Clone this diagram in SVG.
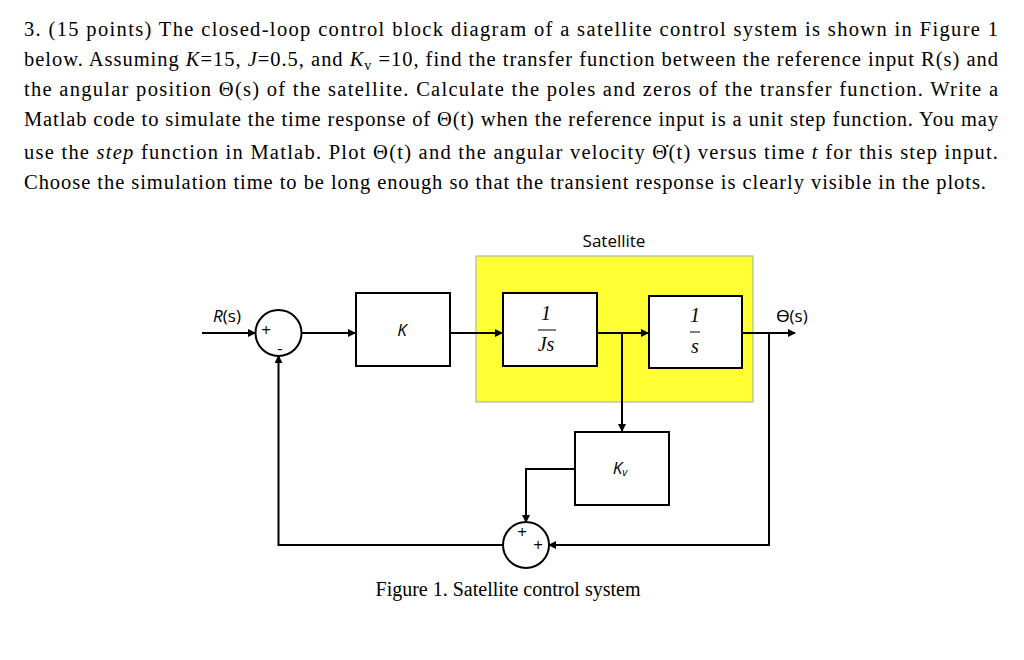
<svg xmlns="http://www.w3.org/2000/svg" width="1024" height="660" viewBox="0 0 1024 660">
<style>
.q{font-family:"Liberation Serif",serif;font-size:20.5px;fill:#000}
.s{font-family:"Open Sans","Liberation Sans",sans-serif;font-size:17px;fill:#000}
.m{font-family:"Liberation Serif",serif;font-size:20px;font-style:italic;fill:#000}
.b{fill:#fff;stroke:#000;stroke-width:2}
.w{fill:none;stroke:#000;stroke-width:2}
</style>
<defs><marker id="a" markerWidth="8" markerHeight="8" refX="7" refY="4" orient="auto" markerUnits="userSpaceOnUse"><path d="M0,0 L8,4 L0,8 Z" fill="#000"/></marker></defs>
<rect width="1024" height="660" fill="#fff"/>
<text class="q" x="24" y="36" textLength="974" lengthAdjust="spacing">3. (15 points) The closed-loop control block diagram of a satellite control system is shown in Figure 1</text>
<text class="q" x="24" y="66" textLength="974" lengthAdjust="spacing">below. Assuming <tspan font-style="italic">K</tspan>=15, <tspan font-style="italic">J</tspan>=0.5, and <tspan font-style="italic">K</tspan><tspan font-size="14" dy="4">v</tspan><tspan dy="-4"> =10, find the transfer function between the reference input R(s) and</tspan></text>
<text class="q" x="24" y="96" textLength="974" lengthAdjust="spacing">the angular position Θ(s) of the satellite. Calculate the poles and zeros of the transfer function. Write a</text>
<text class="q" x="24" y="126" textLength="974" lengthAdjust="spacing">Matlab code to simulate the time response of Θ(t) when the reference input is a unit step function. You may</text>
<text class="q" x="24" y="159" textLength="974" lengthAdjust="spacing">use the <tspan font-style="italic">step</tspan> function in Matlab. Plot Θ(t) and the angular velocity Θ̇(t) versus time <tspan font-style="italic">t</tspan> for this step input.</text>
<text class="q" x="24" y="189" textLength="962" lengthAdjust="spacing">Choose the simulation time to be long enough so that the transient response is clearly visible in the plots.</text>

<rect x="476" y="256" width="277" height="146" fill="#ffff33" stroke="#9ab" stroke-width="1"/>
<text class="s" x="614" y="247" text-anchor="middle">Satellite</text>

<g id="connectors">
<line class="w" x1="202" y1="333" x2="255" y2="333" marker-end="url(#a)"/>
<line class="w" x1="302" y1="333" x2="355" y2="333" marker-end="url(#a)"/>
<line class="w" x1="450" y1="333" x2="502" y2="333" marker-end="url(#a)"/>
<line class="w" x1="597" y1="333" x2="648" y2="333" marker-end="url(#a)"/>
<line class="w" x1="742" y1="333" x2="795" y2="333" marker-end="url(#a)"/>
<line class="w" x1="622" y1="333" x2="622" y2="431" marker-end="url(#a)"/>
<polyline class="w" points="575,469 526,469 526,522" marker-end="url(#a)"/>
<polyline class="w" points="769,333 769,545 549,545" marker-end="url(#a)"/>
<polyline class="w" points="503,545 278.5,545 278.5,356" marker-end="url(#a)"/>
</g>

<g id="sum1"><circle class="b" cx="278.5" cy="333" r="23"/>
<text class="s" x="266" y="336" font-size="15" text-anchor="middle">+</text>
<text class="s" x="280" y="354" font-size="15" text-anchor="middle">-</text></g>
<g id="R"><text class="s" x="227" y="322" text-anchor="middle"><tspan font-style="italic">R</tspan>(s)</text></g>
<g id="K"><rect class="b" x="356" y="293" width="94" height="73"/><text class="s" x="402" y="336" text-anchor="middle" font-style="italic">K</text></g>
<g id="Js"><rect class="b" x="503" y="293" width="94" height="73"/>
<text class="m" x="546" y="320" text-anchor="middle" font-style="normal">1</text>
<line x1="538" y1="330" x2="556" y2="330" stroke="#000" stroke-width="1"/>
<text class="m" x="546" y="351" text-anchor="middle">Js</text></g>
<g id="s"><rect class="b" x="649" y="296" width="93" height="72"/>
<text class="m" x="695" y="322" text-anchor="middle" font-style="normal">1</text>
<line x1="690" y1="332" x2="700" y2="332" stroke="#000" stroke-width="1"/>
<text class="m" x="695" y="353" text-anchor="middle">s</text></g>
<g id="theta"><text class="s" x="792" y="322" text-anchor="middle">ϴ(s)</text></g>
<g id="Kv"><rect class="b" x="575" y="432" width="94" height="73"/><text class="s" x="620" y="474" text-anchor="middle" font-style="italic">K<tspan font-size="11" dy="2">v</tspan></text></g>
<g id="sum2"><circle class="b" cx="526" cy="545" r="23"/>
<text class="s" x="522" y="538" font-size="14" text-anchor="middle">+</text>
<text class="s" x="538" y="551" font-size="14" text-anchor="middle">+</text></g>
<text x="508" y="596" text-anchor="middle" font-family="Liberation Serif,serif" font-size="20">Figure 1. Satellite control system</text>
</svg>
